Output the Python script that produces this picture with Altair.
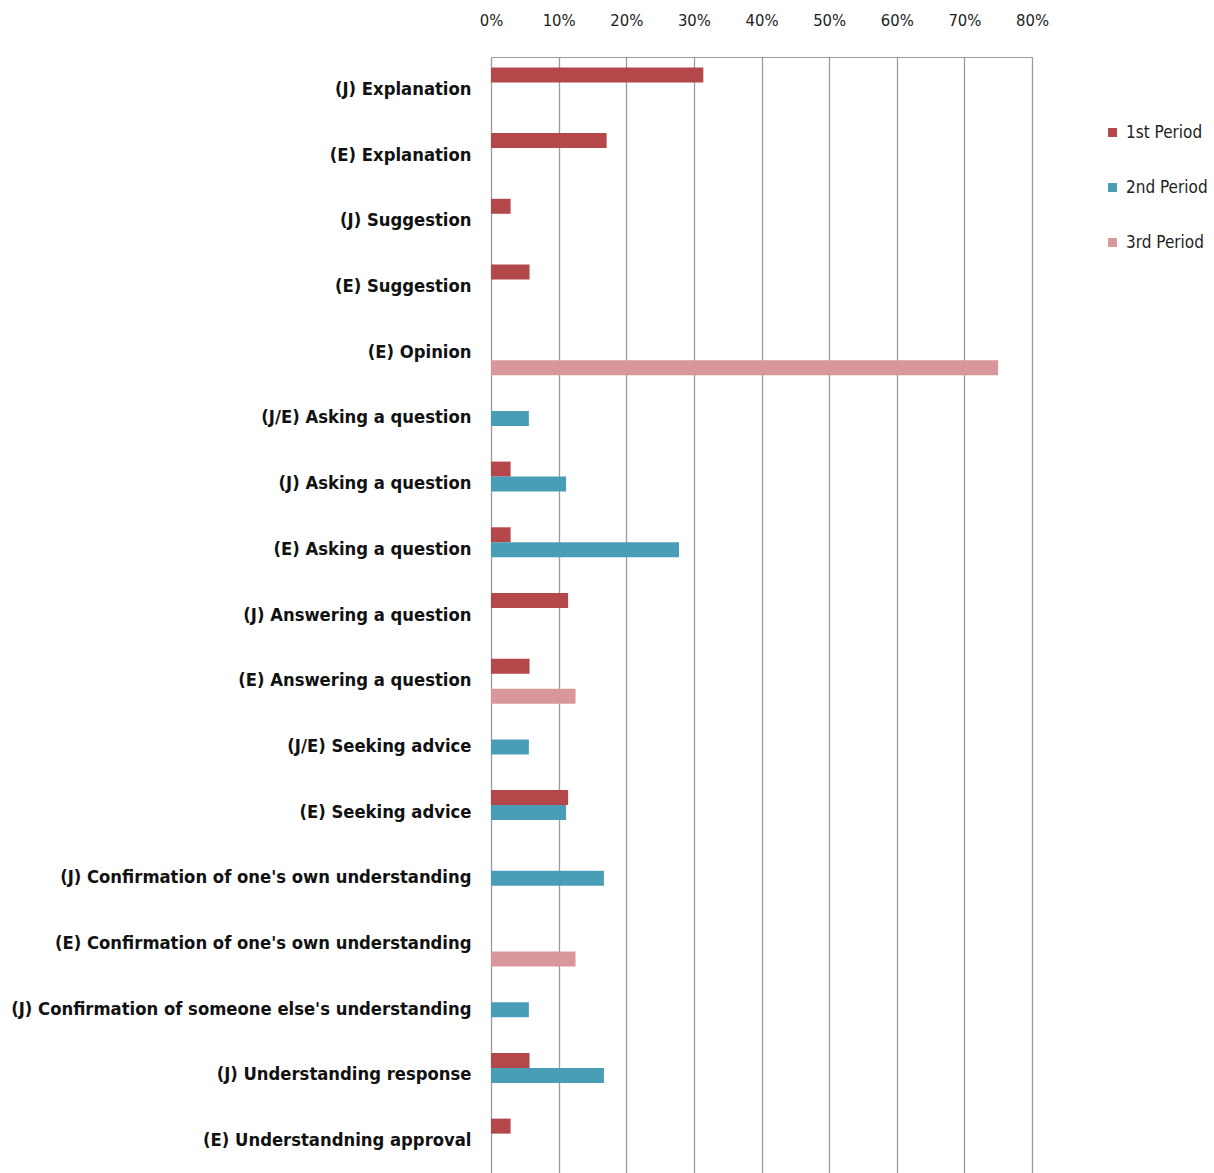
import altair as alt
import pandas as pd

categories = [
    "(J) Explanation",
    "(E) Explanation",
    "(J) Suggestion",
    "(E) Suggestion",
    "(E) Opinion",
    "(J/E) Asking a question",
    "(J) Asking a question",
    "(E) Asking a question",
    "(J) Answering a question",
    "(E) Answering a question",
    "(J/E) Seeking advice",
    "(E) Seeking advice",
    "(J) Confirmation of one's own understanding",
    "(E) Confirmation of one's own understanding",
    "(J) Confirmation of someone else's understanding",
    "(J) Understanding response",
    "(E) Understandning approval",
]
series = ["1st Period", "2nd Period", "3rd Period"]
first_period = [0.314, 0.171, 0.029, 0.057, 0.0, 0.0, 0.029, 0.029, 0.114, 0.057, 0.0, 0.114, 0.0, 0.0, 0.0, 0.057, 0.029]
second_period = [0.0, 0.0, 0.0, 0.0, 0.0, 0.056, 0.111, 0.278, 0.0, 0.0, 0.056, 0.111, 0.167, 0.0, 0.056, 0.167, 0.0]
third_period = [0.0, 0.0, 0.0, 0.0, 0.75, 0.0, 0.0, 0.0, 0.0, 0.125, 0.0, 0.0, 0.0, 0.125, 0.0, 0.0, 0.0]
colors = ["#B3474A", "#4A9DB6", "#D8979A"]
x_ticks = [0, 0.1, 0.2, 0.3, 0.4, 0.5, 0.6, 0.7, 0.8]

rows = []
for vals, s in zip([first_period, second_period, third_period], series):
    for c, v in zip(categories, vals):
        rows.append({"category": c, "period": s, "value": v})
df = pd.DataFrame(rows)

font = "DejaVu Sans Condensed"

chart = alt.Chart(df).mark_bar().encode(
    y=alt.Y("category:N", sort=categories, title=None,
            scale=alt.Scale(paddingInner=0.315, paddingOuter=0.158),
            axis=alt.Axis(labelFont=font, labelFontWeight="bold", labelFontSize=18.3,
                          labelColor="#111111", labelPadding=20, ticks=False,
                          domain=True, domainColor="#9a9a9a", grid=False,
                          labelLimit=600)),
    yOffset=alt.YOffset("period:N", sort=series, scale=alt.Scale(paddingInner=0, paddingOuter=0)),
    x=alt.X("value:Q", title=None,
            scale=alt.Scale(domain=[0, 0.8], nice=False),
            axis=alt.Axis(orient="top", format=".0%", values=x_ticks, labelFont=font,
                          labelFontSize=16.5, labelColor="#222222", ticks=False,
                          labelFlush=False,
                          domain=True, domainColor="#9a9a9a", grid=True,
                          gridColor="#9a9a9a", gridWidth=1.3, labelPadding=29)),
    color=alt.Color("period:N", sort=series,
                    scale=alt.Scale(domain=series, range=colors),
                    legend=alt.Legend(title=None, orient="none", legendX=613, legendY=67,
                                      symbolType="square", symbolSize=80,
                                      labelFont=font, labelFontSize=17, labelColor="#222222",
                                      labelOffset=5,
                                      rowPadding=37, symbolStrokeWidth=0, labelLimit=200)),
).properties(
    width=541, height=1117,
    autosize=alt.AutoSizeParams(type="none"),
    padding={"left": 491, "top": 57, "right": 182, "bottom": 0},
).configure_view(stroke=None)

chart.save("out.html", embed_options={"renderer": "svg", "actions": False})
